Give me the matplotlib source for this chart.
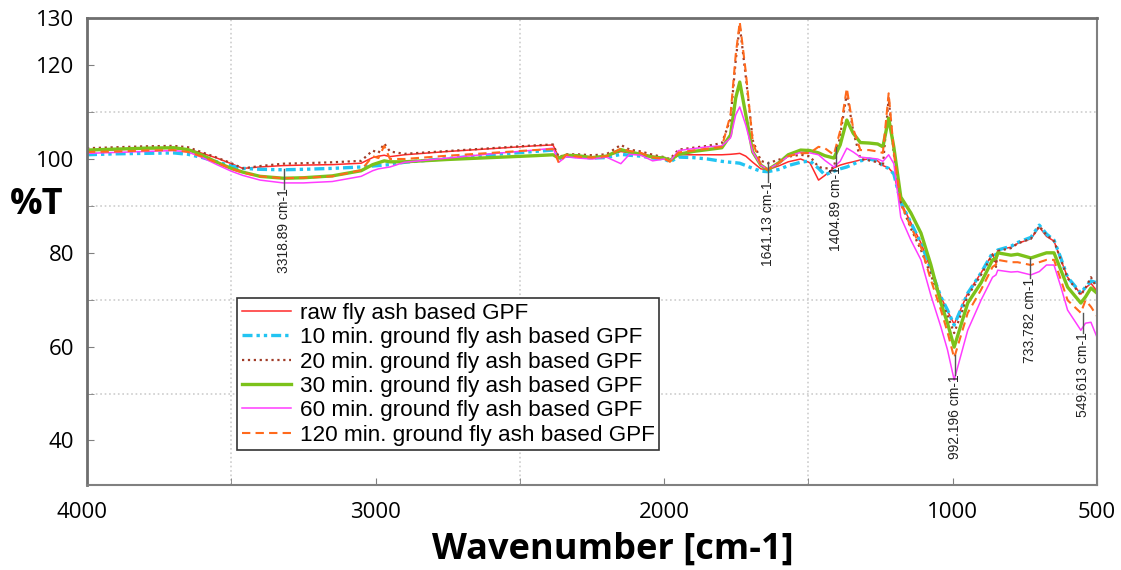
import matplotlib
matplotlib.use("Agg")
import matplotlib.pyplot as plt
import matplotlib.transforms as mtransforms

# wavenumber grid (cm-1)
wavenumber = [4000, 3900, 3800, 3700, 3650, 3600, 3550, 3500, 3460, 3400,
              3320, 3250, 3150, 3050, 3010, 2990, 2970, 2950, 2900, 2750,
              2600, 2450, 2385, 2365, 2340, 2300, 2250, 2200, 2150, 2120,
              2080, 2040, 2000, 1980, 1950, 1900, 1850, 1800, 1770, 1752,
              1738, 1717, 1693, 1665, 1641, 1600, 1570, 1527, 1495, 1465,
              1443, 1412, 1390, 1367, 1345, 1320, 1290, 1260, 1242, 1222,
              1204, 1180, 1145, 1110, 1076, 1041, 1018, 995, 948, 902,
              862, 850, 844, 798, 775, 729, 700, 675, 649, 625,
              602, 556, 540, 521, 500]

raw = [101.9, 102.0, 102.2, 102.3, 102.1, 101.2, 100.2, 99.0, 98.0, 98.3,
       98.6, 98.7, 98.8, 99.1, 100.3, 100.6, 100.8, 100.5, 100.9, 101.6,
       102.2, 102.8, 103.0, 100.3, 100.9, 100.6, 100.4, 100.6, 101.6, 101.3,
       101.0, 100.6, 100.2, 99.6, 100.9, 100.9, 100.9, 100.9, 101.0, 101.1,
       101.2, 100.6, 99.3, 97.9, 97.7, 98.6, 99.4, 100.0, 99.2, 95.5,
       96.5, 98.1, 98.7, 99.1, 99.4, 99.8, 100.0, 99.6, 98.6, 98.1,
       96.8, 90.8, 86.4, 82.1, 76.5, 70.6, 67.6, 64.8, 71.4, 75.7,
       79.8, 77.8, 80.6, 81.2, 82.0, 83.0, 85.5, 83.5, 82.5, 78.5,
       74.8, 71.2, 72.5, 73.5, 71.8]

min10 = [100.9, 101.1, 101.2, 101.3, 101.0, 100.3, 99.4, 98.5, 98.0, 97.8,
         97.7, 97.8, 98.0, 98.3, 98.5, 98.6, 98.7, 98.8, 99.3, 100.1,
         100.9, 101.6, 101.9, 100.0, 100.6, 100.5, 100.2, 100.3, 101.0, 100.8,
         100.6, 100.2, 100.0, 99.4, 100.4, 100.3, 100.0, 99.5, 99.3, 99.2,
         99.1, 98.6, 98.0, 97.4, 97.3, 97.8, 98.6, 99.3, 99.6, 98.0,
         96.6, 97.4, 97.9, 98.3, 98.9, 99.6, 100.0, 99.6, 98.5, 98.0,
         96.8, 90.8, 86.4, 82.1, 76.5, 70.6, 67.8, 64.6, 71.4, 75.7,
         80.0, 79.5, 80.6, 81.4, 82.2, 83.3, 85.9, 84.0, 82.7, 78.8,
         74.8, 71.4, 72.7, 74.0, 73.6]

min20 = [102.3, 102.5, 102.7, 102.8, 102.5, 101.4, 100.3, 99.1, 98.0, 98.5,
         99.0, 99.1, 99.3, 99.6, 101.8, 101.3, 103.3, 101.6, 101.1, 101.7,
         102.3, 102.9, 103.1, 100.4, 101.0, 101.0, 100.8, 101.0, 103.0, 102.0,
         101.6, 100.9, 100.4, 100.0, 102.0, 102.4, 102.8, 103.4, 108.5, 121.0,
         128.5, 117.5, 104.0, 99.6, 99.1, 99.9, 100.5, 100.9, 100.6, 98.3,
         98.0, 98.1, 105.0, 114.0, 106.0, 100.0, 99.7, 99.3, 98.5, 113.0,
         101.0, 90.6, 85.2, 80.6, 75.3, 69.9, 66.7, 62.9, 70.8, 75.3,
         79.6, 77.0, 80.4, 81.0, 82.0, 83.0, 85.7, 83.8, 82.5, 78.5,
         74.6, 71.0, 72.5, 74.8, 72.5]

min30 = [101.9, 102.1, 102.3, 102.4, 102.0, 100.8, 99.3, 98.0, 97.2, 96.3,
         95.9, 96.0, 96.4, 97.5, 98.8, 99.2, 99.6, 99.4, 99.4, 99.9,
         100.3, 100.7, 100.9, 100.2, 100.8, 100.7, 100.3, 100.6, 102.0, 101.5,
         101.0, 100.4, 100.2, 99.7, 101.0, 101.6, 102.0, 102.4, 105.1, 113.0,
         116.4, 109.4, 101.5, 98.7, 97.7, 99.3, 100.9, 101.9, 101.8, 101.3,
         100.7, 100.2, 103.0, 108.3, 105.5, 103.5, 103.4, 103.2, 102.6, 108.7,
         102.5, 91.9, 88.5, 84.2, 77.5, 69.3, 65.0, 59.9, 69.3, 73.6,
         78.5, 78.8, 80.0, 79.5, 79.7, 78.9, 79.5, 80.0, 80.0, 76.3,
         72.7, 69.3, 70.6, 72.5, 71.4]

min60 = [101.2, 101.4, 101.6, 101.8, 101.5, 100.3, 98.8, 97.4, 96.5, 95.5,
         94.9, 94.9, 95.2, 96.3, 97.5, 97.9, 98.1, 98.3, 99.3, 100.2,
         101.1, 101.9, 102.3, 99.3, 100.5, 100.2, 100.0, 100.4, 99.0, 101.0,
         100.8, 99.6, 100.0, 99.5, 101.8, 102.2, 102.6, 102.8, 104.5, 109.4,
         111.1, 107.2, 101.5, 98.7, 97.8, 99.2, 100.6, 101.4, 101.3, 100.9,
         99.7, 98.3, 99.5, 102.3, 101.5, 100.4, 100.2, 100.0, 99.5, 100.9,
         99.0, 87.6, 82.7, 78.5, 71.0, 64.2, 59.3, 52.9, 63.5, 69.9,
         74.8, 75.3, 76.3, 75.9, 76.0, 75.3, 76.0, 77.4, 77.4, 72.7,
         67.8, 63.5, 65.0, 65.2, 62.0]

min120 = [101.5, 101.6, 101.8, 101.9, 101.5, 100.5, 99.2, 97.9, 97.1, 96.3,
          95.9, 96.0, 96.3, 97.6, 100.6, 100.2, 102.8, 100.0, 100.0, 100.7,
          101.3, 101.9, 102.1, 99.2, 100.9, 100.5, 100.3, 100.6, 102.2, 101.7,
          101.3, 100.3, 100.1, 99.4, 101.4, 101.8, 102.2, 102.6, 109.4, 122.2,
          129.2, 118.5, 103.6, 98.7, 97.7, 99.3, 100.6, 101.2, 101.3, 102.6,
          102.3, 100.9, 106.0, 115.1, 106.5, 101.9, 101.9, 101.6, 101.3, 114.0,
          101.5, 90.6, 85.5, 81.2, 74.3, 67.8, 63.1, 57.6, 67.2, 72.1,
          77.0, 77.5, 78.5, 78.0, 78.0, 77.4, 78.0, 78.5, 78.5, 74.2,
          69.9, 67.2, 69.9, 68.5, 66.5]

series_labels = ["raw fly ash based GPF",
                 "10 min. ground fly ash based GPF",
                 "20 min. ground fly ash based GPF",
                 "30 min. ground fly ash based GPF",
                 "60 min. ground fly ash based GPF",
                 "120 min. ground fly ash based GPF"]

# peak markers
peak_wn = [3318.89, 1641.13, 1404.89, 992.196, 733.782, 549.613]
peak_T = [97.9, 99.4, 102.6, 58.2, 78.9, 67.2]
peak_labels = ["3318.89 cm-1", "1641.13 cm-1", "1404.89 cm-1",
               "992.196 cm-1", "733.782 cm-1", "549.613 cm-1"]

xtick_vals = [4000, 3000, 2000, 1000, 500]
ytick_vals = [40, 60, 80, 100, 120, 130]

fig = plt.figure(figsize=(11.21, 5.70), dpi=100)
ax = fig.add_axes([0.0776, 0.149, 0.901, 0.819])

ax.plot(wavenumber, raw, color="#ff2a2a", lw=1.1, label=series_labels[0])
ax.plot(wavenumber, min10, color="#22c4f2", lw=2.4,
        linestyle=(0, (3, 1.2, 1, 1.2, 1, 1.2)), label=series_labels[1])
ax.plot(wavenumber, min20, color="#a13c28", lw=1.6, linestyle=":",
        label=series_labels[2])
ax.plot(wavenumber, min30, color="#7cc21a", lw=2.4, label=series_labels[3])
ax.plot(wavenumber, min60, color="#ff3cff", lw=1.1, label=series_labels[4])
ax.plot(wavenumber, min120, color="#ff6a1c", lw=1.5,
        linestyle=(0, (4, 2.5)), label=series_labels[5])

# peak annotations
for w, t, lab in zip(peak_wn, peak_T, peak_labels):
    ax.plot([w, w], [t, t - 4.2], color="#555555", lw=1.0)
    ax.text(w, t - 4.2, lab, rotation=90, ha="center", va="top",
            fontsize=10, family="Liberation Sans", color="#222222")

ax.set_xlim(4000, 500)
ax.set_ylim(30.5, 130)

ax.set_xticks(range(500, 4001, 500), minor=True)
ax.set_xticks(xtick_vals)
ax.set_xticklabels([str(v) for v in xtick_vals])
ax.set_yticks(range(40, 131, 10), minor=True)
ax.set_yticks(ytick_vals)
ax.set_yticklabels([str(v) for v in ytick_vals])

ax.grid(which="minor", color="#cdcdcd", linestyle=":", linewidth=1.2)
ax.tick_params(which="both", direction="in", length=5, color="#808080")
ax.tick_params(axis="x", which="major", pad=12, labelsize=16)
ax.tick_params(axis="y", which="major", pad=9, labelsize=16)
for lab in ax.get_xticklabels() + ax.get_yticklabels():
    lab.set_family("Open Sans")

# 4000 label sits a bit left of the axis edge
first = ax.get_xticklabels()[0]
first.set_transform(first.get_transform() +
                    mtransforms.ScaledTranslation(-5 / 100, 0, fig.dpi_scale_trans))

for side in ["left", "top"]:
    ax.spines[side].set_color("#6e6e6e")
    ax.spines[side].set_linewidth(2)
for side in ["right", "bottom"]:
    ax.spines[side].set_color("#808080")
    ax.spines[side].set_linewidth(1.5)

ax.set_xlabel("Wavenumber [cm-1]", fontsize=26, fontweight="bold",
              family="Open Sans")
ax.xaxis.set_label_coords(0.521, -0.10)
ax.set_ylabel("%T", fontsize=26, fontweight="bold", family="Open Sans",
              rotation=0, va="center", ha="center")
ax.yaxis.set_label_coords(-0.05, 0.60)

leg = ax.legend(loc="upper left", bbox_to_anchor=(0.149, 0.40),
                borderaxespad=0, fancybox=False, framealpha=1,
                edgecolor="#333333", prop={"family": "Liberation Sans", "size": 16.2},
                handlelength=2.2, handletextpad=0.38, borderpad=0.2,
                labelspacing=0.15)
leg.get_frame().set_linewidth(1.2)

fig.savefig("out.png", dpi=100, facecolor="white")
